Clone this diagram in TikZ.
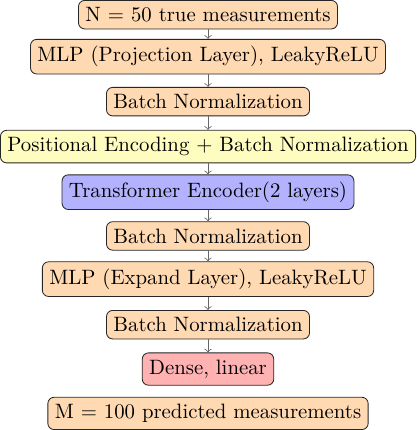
\documentclass[tikz,border=0pt]{standalone}
\usepackage{amssymb}
\usepackage{amsmath}

\begin{document}
\begin{tikzpicture}[
  layer/.style={draw=black!85,solid,thin,rounded corners=3pt},
  flow/.style={black!60,thin,->}
]
% Layer boxes (top to bottom)
\node[layer,fill=orange!30] (input) at (0,0) {N = 50 true measurements};
\node[layer,fill=orange!30] (proj) at (0,-0.71) {MLP (Projection Layer), LeakyReLU};
\node[layer,fill=orange!30] (bnA) at (0,-1.47) {Batch Normalization};
\node[layer,fill=yellow!25] (posenc) at (0,-2.23) {Positional Encoding + Batch Normalization};
\node[layer,fill=blue!30] (encoder) at (0,-3.00) {Transformer Encoder(2 layers)};
\node[layer,fill=orange!30] (bnB) at (0,-3.74) {Batch Normalization};
\node[layer,fill=orange!30] (expand) at (0,-4.47) {MLP (Expand Layer), LeakyReLU};
\node[layer,fill=orange!30] (bnC) at (0,-5.24) {Batch Normalization};
\node[layer,fill=red!30] (dense) at (0,-5.99) {Dense, linear};
\node[layer,fill=orange!30] (output) at (0,-6.74) {M = 100 predicted measurements};
% Arrows
\draw[flow] (input)--(proj);
\draw[flow] (proj)--(bnA);
\draw[flow] (bnA)--(posenc);
\draw[flow] (posenc)--(encoder);
\draw[flow] (encoder)--(bnB);
\draw[flow] (bnB)--(expand);
\draw[flow] (expand)--(bnC);
\draw[flow] (bnC)--(dense);
\end{tikzpicture}
\end{document}
